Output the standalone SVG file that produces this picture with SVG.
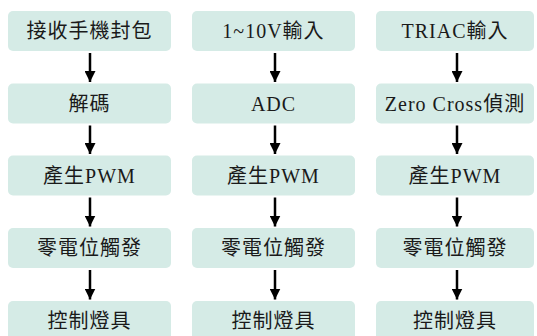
<svg xmlns="http://www.w3.org/2000/svg" width="537" height="336" viewBox="0 0 537 336">
<style>
.box{fill:#d5ebe6;}
.t{font-family:"Liberation Serif","Noto Sans CJK TC",serif;font-size:20px;fill:#1a1a1a;text-anchor:middle;dominant-baseline:central;letter-spacing:1px;}
.c{stroke:#000;stroke-width:2.5;fill:none;marker-end:url(#ah);}
</style>
<defs>
<marker id="ah" markerUnits="userSpaceOnUse" markerWidth="11" markerHeight="11" refX="10" refY="5" orient="auto" viewBox="0 0 10 10">
<path d="M0,0 L10,5 L0,10 Z" fill="#000"/>
</marker>
</defs>
<rect width="537" height="336" fill="#fff"/>
<g id="c1r1"><rect class="box" x="8" y="11" width="163" height="40" rx="5"/><text class="t" x="89.5" y="31">接收手機封包</text></g>
<g id="c1r2"><rect class="box" x="8" y="83.5" width="163" height="40" rx="5"/><text class="t" x="89.5" y="103.5">解碼</text></g>
<g id="c1r3"><rect class="box" x="8" y="155.5" width="163" height="40" rx="5"/><text class="t" x="89.5" y="175.5">產生PWM</text></g>
<g id="c1r4"><rect class="box" x="8" y="228" width="163" height="40" rx="5"/><text class="t" x="89.5" y="248">零電位觸發</text></g>
<g id="c1r5"><rect class="box" x="8" y="301" width="163" height="40" rx="5"/><text class="t" x="89.5" y="321">控制燈具</text></g>
<g id="c2r1"><rect class="box" x="192" y="11" width="163" height="40" rx="5"/><text class="t" x="273.5" y="31">1~10V輸入</text></g>
<g id="c2r2"><rect class="box" x="192" y="83.5" width="163" height="40" rx="5"/><text class="t" x="273.5" y="103.5">ADC</text></g>
<g id="c2r3"><rect class="box" x="192" y="155.5" width="163" height="40" rx="5"/><text class="t" x="273.5" y="175.5">產生PWM</text></g>
<g id="c2r4"><rect class="box" x="192" y="228" width="163" height="40" rx="5"/><text class="t" x="273.5" y="248">零電位觸發</text></g>
<g id="c2r5"><rect class="box" x="192" y="301" width="163" height="40" rx="5"/><text class="t" x="273.5" y="321">控制燈具</text></g>
<g id="c3r1"><rect class="box" x="376" y="11" width="158" height="40" rx="5"/><text class="t" x="455" y="31">TRIAC輸入</text></g>
<g id="c3r2"><rect class="box" x="376" y="83.5" width="158" height="40" rx="5"/><text class="t" x="455" y="103.5">Zero Cross偵測</text></g>
<g id="c3r3"><rect class="box" x="376" y="155.5" width="158" height="40" rx="5"/><text class="t" x="455" y="175.5">產生PWM</text></g>
<g id="c3r4"><rect class="box" x="376" y="228" width="158" height="40" rx="5"/><text class="t" x="455" y="248">零電位觸發</text></g>
<g id="c3r5"><rect class="box" x="376" y="301" width="158" height="40" rx="5"/><text class="t" x="455" y="321">控制燈具</text></g>
<g id="connectors">
<line class="c" x1="90" y1="53" x2="90" y2="82"/>
<line class="c" x1="90" y1="125.5" x2="90" y2="154"/>
<line class="c" x1="90" y1="197.5" x2="90" y2="226.5"/>
<line class="c" x1="90" y1="270" x2="90" y2="299.5"/>
<line class="c" x1="275" y1="53" x2="275" y2="82"/>
<line class="c" x1="275" y1="125.5" x2="275" y2="154"/>
<line class="c" x1="275" y1="197.5" x2="275" y2="226.5"/>
<line class="c" x1="275" y1="270" x2="275" y2="299.5"/>
<line class="c" x1="457" y1="53" x2="457" y2="82"/>
<line class="c" x1="457" y1="125.5" x2="457" y2="154"/>
<line class="c" x1="457" y1="197.5" x2="457" y2="226.5"/>
<line class="c" x1="457" y1="270" x2="457" y2="299.5"/>
</g>
</svg>
